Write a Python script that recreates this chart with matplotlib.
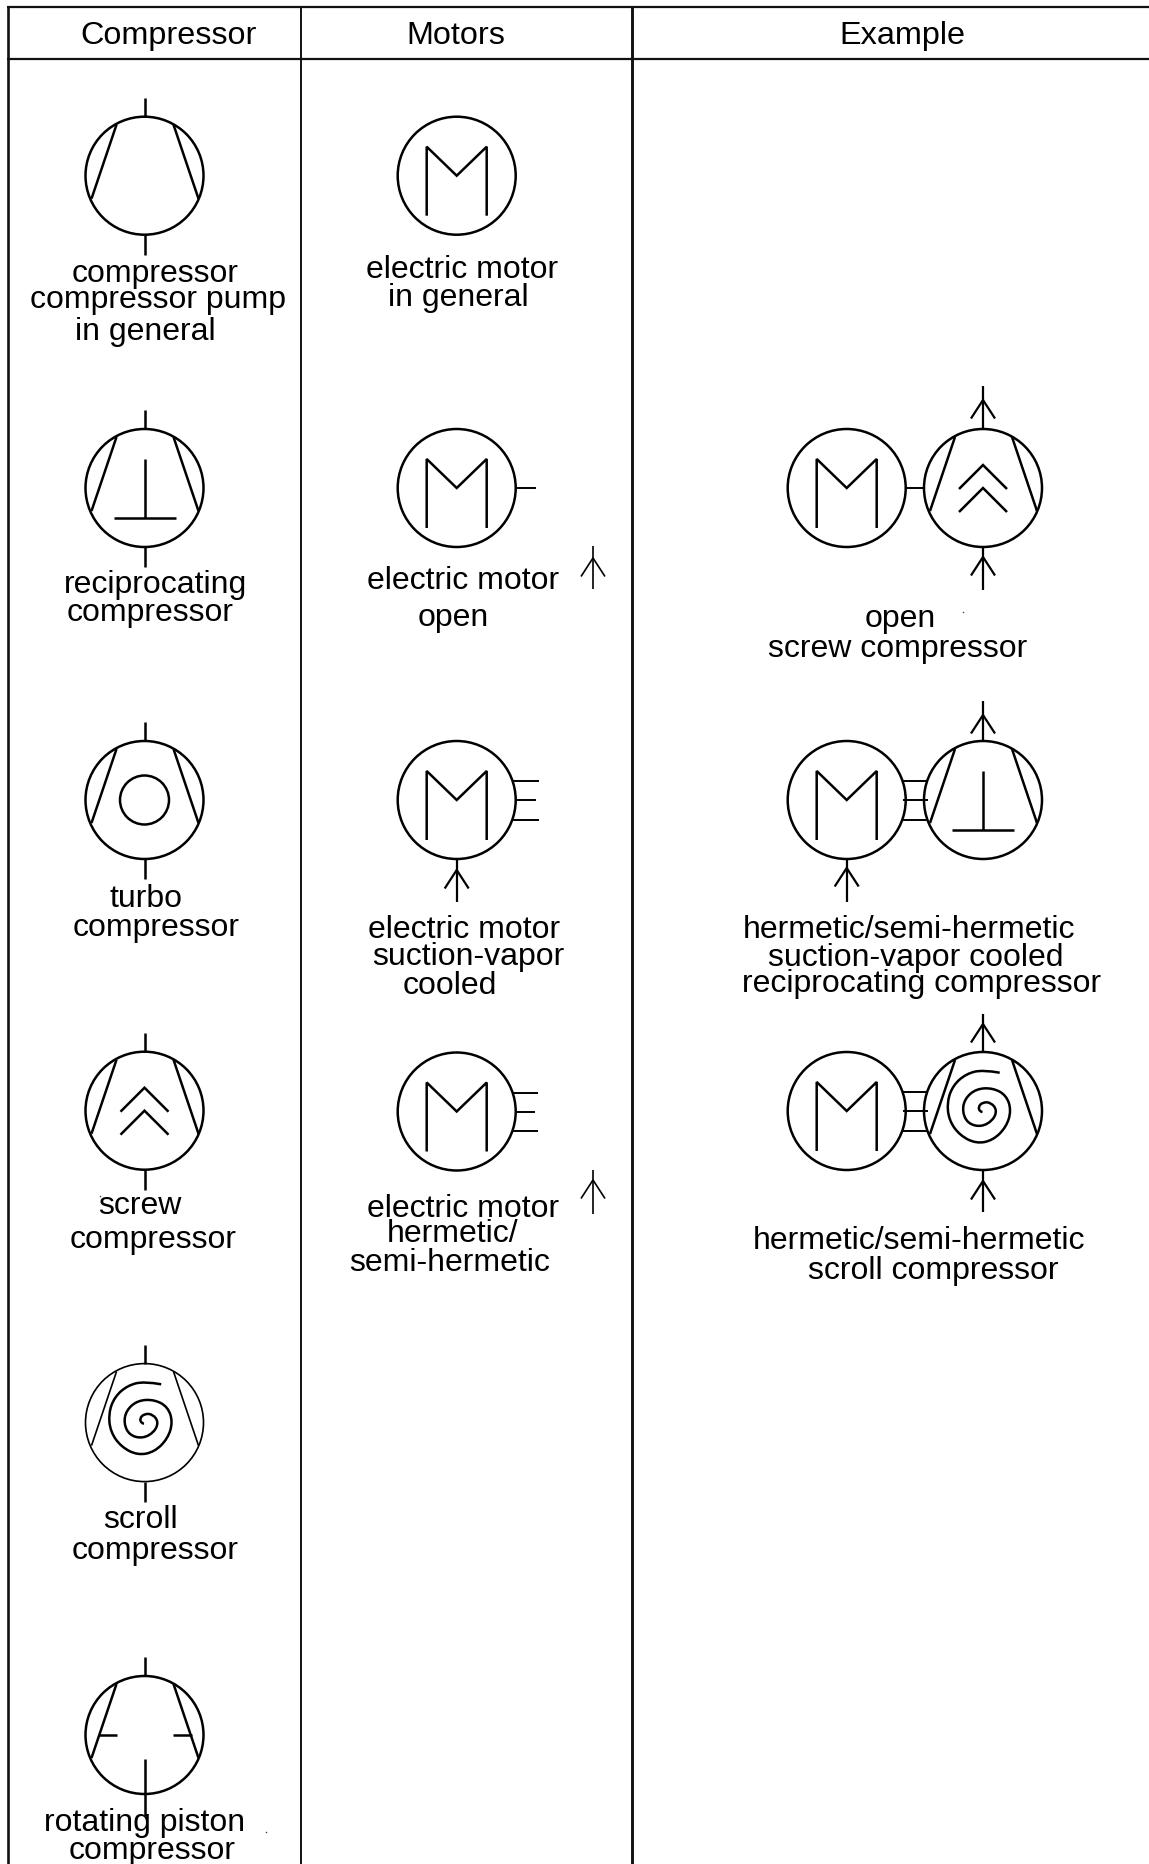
import matplotlib
matplotlib.use('Agg')
import matplotlib.pyplot as plt
from matplotlib.patches import Circle, PathPatch
from matplotlib.path import Path

plt.rcParams['font.family'] = ['Liberation Sans', 'DejaVu Sans']

# table lines, in pixels of the original
COLUMN_LINES = [8, 301, 632]
COLUMN_WIDTHS = [1.9, 1.4, 2.1]
ROW_LINES = [8, 60]
HEADERS = ['Compressor', 'Motors', 'Example']
HEADER_X = [169, 456, 902.7]

# symbol positions
COMP_X = 144.5
COMP_Y = [176.7, 489, 801, 1111.7, 1423.6, 1736]
COMP_KINDS = ['plain', 'piston', 'turbo', 'screw', 'scroll', 'rotating']
MOTOR_X = 456.7
MOTOR_Y = [176.7, 489, 801, 1112.5]
EX_MOTOR_X = 846.7
EX_COMP_X = 983
EX_Y = [489, 801, 1112]
EX_KINDS = ['screw', 'piston', 'scroll']

# spiral of the scroll compressor (offset from circle centre)
SPIRAL_DX = [16.7, 0, -16.7, -30, -36, -34, -23.3, -6.7, 10, 23.3, 28.3, 23.3, 10,
             -6.7, -18.3, -20.7, -15, -1.7, 10, 14, 8.3, 0, -5, -2.7, 1.7]
SPIRAL_DY = [-38.3, -41.3, -37.3, -25.7, -9, 9.3, 24.3, 32.7, 29.3, 16, -0.7, -15.7, -23,
             -22.3, -12.3, 1, 12.7, 16, 9.3, -0.7, -8.3, -9, -4, 1, 1]

# every text line: text, centre x, baseline y
LABELS = [
    ('compressor', 155, 281.6), ('compressor pump', 157.5, 308), ('in general', 145, 339.6),
    ('reciprocating', 156, 593), ('compressor', 150, 621),
    ('turbo', 145.8, 907), ('compressor', 156, 935.7),
    ('screw', 139.5, 1214), ('compressor', 153, 1247.6),
    ('scroll', 140.8, 1528.5), ('compressor', 155, 1558.8),
    ('rotating piston', 145, 1831), ('compressor', 151.8, 1858.8),
    ('electric motor', 462.5, 277.5), ('in general', 458.8, 306),
    ('electric motor', 463, 588.6), ('open', 453, 625.7),
    ('electric motor', 463.8, 938), ('suction-vapor', 468, 965), ('cooled', 449.5, 993.5),
    ('electric motor', 463, 1216.6), ('hermetic/', 452.5, 1241.5), ('semi-hermetic', 450, 1271),
    ('open', 900.7, 627), ('screw compressor', 898, 657.5),
    ('hermetic/semi-hermetic', 908.7, 938.3), ('suction-vapor cooled', 916, 966),
    ('reciprocating compressor', 921.7, 991.7),
    ('hermetic/semi-hermetic', 919, 1249.3), ('scroll compressor', 933, 1279.3),
]

# arrows: x, tail y, tip y, head y
ARROWS = [
    (593, 590, 547, 559, 1.0), (593, 1214.7, 1170.7, 1181, 1.0),
    (MOTOR_X, 903, 860, 871, 1.4),
    (EX_COMP_X, 430, 387, 401, 1.4), (EX_COMP_X, 591, 548, 558, 1.4),
    (EX_COMP_X, 742, 702, 716, 1.4), (EX_MOTOR_X, 903, 860, 869, 1.4),
    (EX_COMP_X, 1053, 1015, 1025, 1.4), (EX_COMP_X, 1213, 1172, 1182, 1.4),
]
SPECKS_X = [962.7, 265.7, 100]
SPECKS_Y = [613, 1832.7, 1197]

R = 59
LW = 1.8


def line(ax, xs, ys, lw=LW):
    ax.plot(xs, ys, color='black', lw=lw, solid_capstyle='butt', solid_joinstyle='miter')


def motor(ax, x, y):
    ax.add_patch(Circle((x, y), R, fill=False, ec='black', lw=LW))
    line(ax, [x - 30, x - 30, x, x + 30, x + 30], [y + 40, y - 29, y, y - 29, y + 40])


def spiral(ax, x, y):
    xs = [x + d for d in SPIRAL_DX]
    ys = [y + d for d in SPIRAL_DY]
    verts = [(xs[0], ys[0])]
    codes = [Path.MOVETO]
    for i in range(1, len(xs) - 1):
        verts += [(xs[i], ys[i]), ((xs[i] + xs[i + 1]) / 2, (ys[i] + ys[i + 1]) / 2)]
        codes += [Path.CURVE3, Path.CURVE3]
    ax.add_patch(PathPatch(Path(verts, codes), fill=False, ec='black', lw=LW))


def compressor(ax, x, y, kind, body_lw=LW):
    ax.add_patch(Circle((x, y), R, fill=False, ec='black', lw=body_lw))
    line(ax, [x - 28, x - 53], [y - 51, y + 23], body_lw)
    line(ax, [x + 29, x + 54], [y - 51, y + 23], body_lw)
    if kind == 'piston':
        line(ax, [x, x], [y - 29, y + 29.5])
        line(ax, [x - 31, x + 31], [y + 29.5, y + 29.5])
    elif kind == 'turbo':
        ax.add_patch(Circle((x, y), 24.5, fill=False, ec='black', lw=LW))
    elif kind == 'screw':
        line(ax, [x - 24, x, x + 24], [y + 1, y - 23, y + 1])
        line(ax, [x - 24, x, x + 24], [y + 24, y, y + 24])
    elif kind == 'scroll':
        spiral(ax, x, y)
    elif kind == 'rotating':
        line(ax, [x - 46, x - 27.6], [y, y])
        line(ax, [x + 28, x + 47], [y, y])


def arrow(ax, x, tail, tip, head, lw):
    line(ax, [x, x], [tail, tip], lw + 0.2)
    line(ax, [x - 12, x, x + 12], [head + 18.5, head, head + 18.5], lw + 0.2)


def stubs(ax, x, y, lift=0):
    # three short connections right of a motor
    line(ax, [x + 55, x + 82 - lift], [y - 19, y - 19], 1.4)
    line(ax, [x + 58, x + 79 - lift], [y, y], 1.4)
    line(ax, [x + 55, x + 82 - lift], [y + 19.5, y + 19.5], 1.4)


fig = plt.figure(figsize=(11.49, 18.65), dpi=100)
ax = fig.add_axes([0, 0, 1, 1])
ax.set_xlim(0, 1149)
ax.set_ylim(1865, 0)
ax.axis('off')

# table
for x, w in zip(COLUMN_LINES, COLUMN_WIDTHS):
    ax.plot([x, x], [7, 1865], color='#111111', lw=w, solid_capstyle='butt')
for y in ROW_LINES:
    ax.plot([7, 1149], [y, y], color='#111111', lw=1.6, solid_capstyle='butt')
for name, x in zip(HEADERS, HEADER_X):
    ax.text(x, 44, name, ha='center', va='baseline', fontsize=23.3)

# compressor column
for y, kind in zip(COMP_Y, COMP_KINDS):
    compressor(ax, COMP_X, y, kind, 1.2 if kind == 'scroll' else LW)
    line(ax, [COMP_X, COMP_X], [y - 78, y - R])
    if kind == 'rotating':
        line(ax, [COMP_X, COMP_X], [y + 24, y + 81])
    else:
        line(ax, [COMP_X, COMP_X], [y + R, y + 79])

# motor column
for y in MOTOR_Y:
    motor(ax, MOTOR_X, y)
line(ax, [MOTOR_X + 59, MOTOR_X + 79], [MOTOR_Y[1], MOTOR_Y[1]], 1.4)
stubs(ax, MOTOR_X, MOTOR_Y[2])
stubs(ax, MOTOR_X, MOTOR_Y[3], 1)

# example column
for i, (y, kind) in enumerate(zip(EX_Y, EX_KINDS)):
    motor(ax, EX_MOTOR_X, y)
    compressor(ax, EX_COMP_X, y, kind)
    if i == 0:
        line(ax, [EX_MOTOR_X + R, EX_COMP_X - R], [y, y], 1.4)
    else:
        for dy in [-19, 0, 19.5]:
            line(ax, [903, 928], [y + dy, y + dy], 1.4)

for x, tail, tip, head, lw in ARROWS:
    arrow(ax, x, tail, tip, head, lw)

for text, x, y in LABELS:
    ax.text(x, y, text, ha='center', va='baseline', fontsize=23, color='black')

ax.scatter(SPECKS_X, SPECKS_Y, s=1.2, color='#444444', linewidths=0)

fig.savefig('out.png', dpi=100)
